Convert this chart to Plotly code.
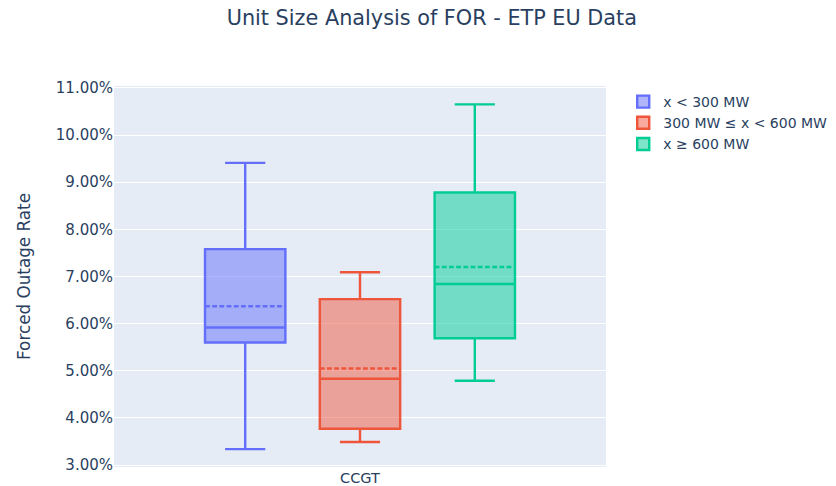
import plotly.graph_objects as go

category = ["CCGT"]
series_names = ["x < 300 MW", "300 MW ≤ x < 600 MW", "x ≥ 600 MW"]
lower_fence = [0.0334, 0.0349, 0.0479]
q1_vals = [0.0560, 0.0377, 0.0569]
median_vals = [0.0592, 0.0483, 0.0684]
mean_vals = [0.0637, 0.0505, 0.0720]
q3_vals = [0.0758, 0.0652, 0.0878]
upper_fence = [0.0941, 0.0709, 0.1065]

fig = go.Figure()
for i, name in enumerate(series_names):
    fig.add_trace(go.Box(
        name=name,
        x=category,
        lowerfence=[lower_fence[i]],
        q1=[q1_vals[i]],
        median=[median_vals[i]],
        mean=[mean_vals[i]],
        q3=[q3_vals[i]],
        upperfence=[upper_fence[i]],
        boxmean=True,
        line=dict(width=2.4),
    ))

fig.update_layout(
    template="plotly",
    width=836, height=486,
    boxmode="group",
    font=dict(family="DejaVu Sans", size=14),
    title=dict(text="Unit Size Analysis of FOR - ETP EU Data", x=0.507, xanchor="center",
               y=1 - 10 / 486, yanchor="middle", font=dict(size=20.8)),
    margin=dict(l=106, r=238, t=78, b=27, autoexpand=False),
    xaxis=dict(tickfont=dict(size=14.5)),
    yaxis=dict(title=dict(text="Forced Outage Rate", standoff=20, font=dict(size=16.8)),
               tickformat=".2%", tickfont=dict(size=15),
               dtick=0.01, range=[0.0296, 0.1104]),
    legend=dict(x=1.035, y=1.0, yanchor="top", font=dict(size=14)),
)
fig.write_html("out.html")
